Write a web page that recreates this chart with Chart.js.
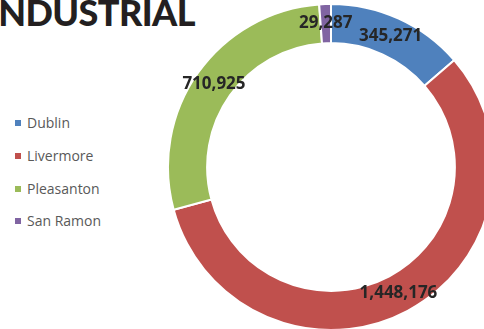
<!DOCTYPE html>
<html><head><meta charset="utf-8">
<script src="https://cdn.jsdelivr.net/npm/chart.js@4/dist/chart.umd.min.js"></script>
<style>
html,body{margin:0;padding:0;width:484px;height:329px;overflow:hidden;background:#fff;}
#title{position:absolute;left:-12px;top:-10px;font-family:Lato;font-weight:900;font-size:36px;color:#231f20;white-space:nowrap;letter-spacing:-0.6px;}
#legend{position:absolute;left:0;top:0;font-family:"Open Sans";font-size:14px;color:#595959;}
.item{position:absolute;left:15px;white-space:nowrap;line-height:20px;}
.sw{display:inline-block;width:6px;height:6px;margin-right:6px;vertical-align:middle;position:relative;top:-1px;}
#wrap{position:absolute;left:167px;top:3px;width:328px;height:328px;}
</style></head>
<body>
<div id="title">INDUSTRIAL</div>
<div id="legend"></div>
<div id="wrap"><canvas id="c" width="328" height="328"></canvas></div>
<script>
const categories = ["Dublin", "Livermore", "Pleasanton", "San Ramon"];
const values = [345271, 1448176, 710925, 29287];
const colors = ["#4F81BD", "#C0504D", "#9BBB59", "#8064A2"];
const legendTops = [113, 146, 179, 211];

const leg = document.getElementById('legend');
categories.forEach((c, i) => {
  const d = document.createElement('div');
  d.className = 'item';
  d.style.top = legendTops[i] + 'px';
  d.innerHTML = '<span class="sw" style="background:' + colors[i] + '"></span>' + c;
  leg.appendChild(d);
});

const labelPlugin = {
  id: 'vals',
  afterDatasetsDraw(chart) {
    const ctx = chart.ctx;
    const meta = chart.getDatasetMeta(0);
    ctx.save();
    ctx.font = 'bold 17px "Open Sans"';
    ctx.fillStyle = '#262626';
    ctx.textAlign = 'center';
    ctx.textBaseline = 'middle';
    meta.data.forEach((arc, i) => {
      const p = arc.tooltipPosition();
      ctx.fillText(values[i].toLocaleString('en-US'), p.x, p.y);
    });
    ctx.restore();
  }
};

new Chart(document.getElementById('c'), {
  type: 'doughnut',
  data: {
    labels: categories,
    datasets: [{
      data: values,
      backgroundColor: colors,
      borderColor: '#ffffff',
      borderWidth: 2
    }]
  },
  options: {
    responsive: false,
    animation: false,
    cutout: '76%',
    layout: { padding: 0 },
    plugins: { legend: { display: false }, tooltip: { enabled: false } }
  },
  plugins: [labelPlugin]
});
</script>
</body></html>
